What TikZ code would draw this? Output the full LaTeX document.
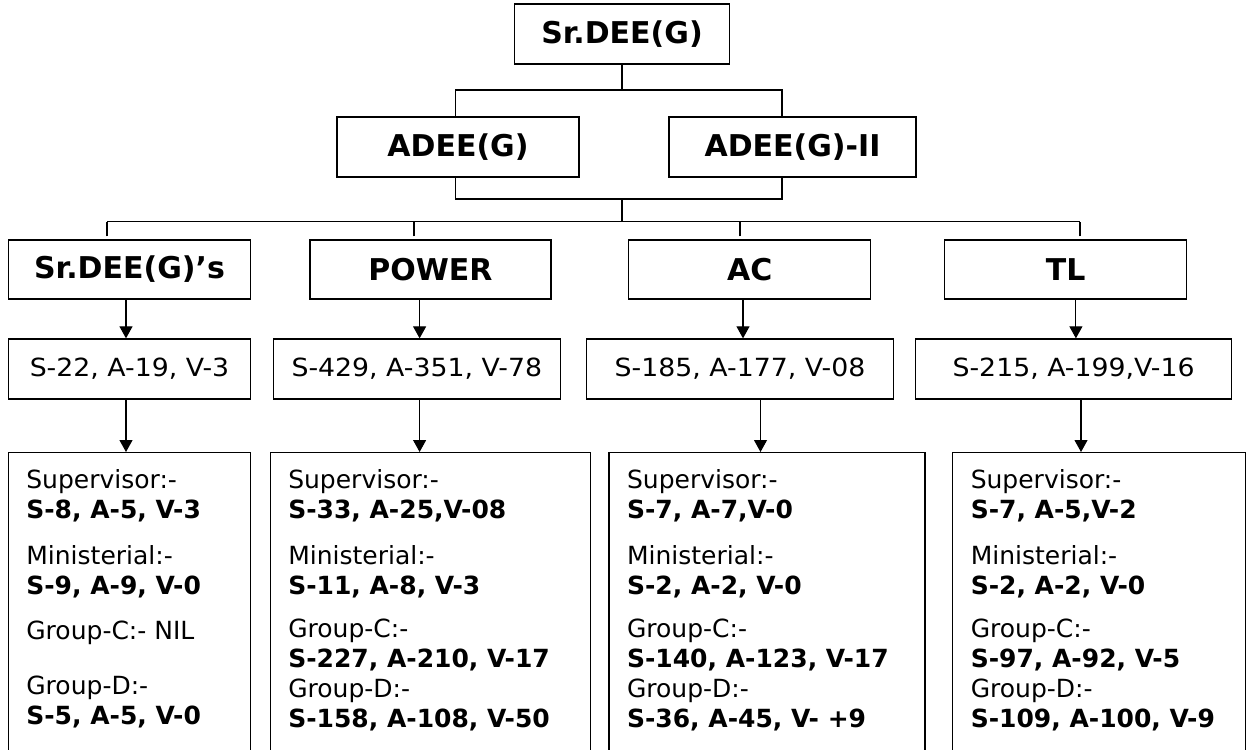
\documentclass[tikz,border=0pt]{standalone}
\usepackage{fontspec}
\setmainfont{DejaVu Sans}
\newfontfamily\widefont[FakeStretch=1.07]{DejaVu Sans}
\usetikzlibrary{arrows.meta}
\begin{document}
\begin{tikzpicture}[x=1pt,y=-1pt,
	box/.style={draw,line width=1.3pt,inner sep=0pt},
	head/.style={box,minimum height=60pt,font=\fontsize{30}{36}\selectfont\bfseries},
	tally/.style={box,minimum height=60pt,font=\widefont\fontsize{25}{30}\selectfont},
	detail/.style={box,anchor=north,minimum height=330pt},
	detailtext/.style={anchor=north west,inner sep=0pt,align=left,font=\fontsize{25}{30}\selectfont},
	link/.style={line width=1.1pt},
	arr/.style={link,-{Triangle[length=12pt,width=13pt]}}]
	\useasboundingbox (0,0) rectangle (1246,749);
	\clip (0,0) rectangle (1246,749);
	\node[head,minimum width=215pt] (top) at (622,34) {Sr.DEE(G)};
	\node[head,minimum width=242pt] (adee1) at (458,147) {ADEE(G)};
	\node[head,minimum width=247pt] (adee2) at (792.5,147) {ADEE(G)-II};
	\node[head,minimum width=242.4pt,minimum height=59pt] (sr1) at (129.5,269.5) {Sr.DEE(G)’s};
	\node[head,minimum width=241pt,minimum height=59pt] (pw1) at (430.5,269.5) {POWER};
	\node[head,minimum width=242pt,minimum height=59pt] (ac1) at (749.75,269.5) {AC};
	\node[head,minimum width=242.2pt,minimum height=59pt] (tl1) at (1065.6,269.5) {TL};
	\node[tally,minimum width=242.4pt] (sr2) at (129.5,369) {S-22, A-19, V-3};
	\node[tally,minimum width=287pt] (pw2) at (416.8,369) {S-429, A-351, V-78};
	\node[tally,minimum width=306.6pt] (ac2) at (740,369) {S-185, A-177, V-08};
	\node[tally,minimum width=316pt] (tl2) at (1073.6,369) {S-215, A-199,V-16};
	\node[detail,minimum width=242.4pt] (sr3) at (129.5,452) {};
	\node[detail,minimum width=320.4pt] (pw3) at (430.4,452) {};
	\node[detail,minimum width=316pt] (ac3) at (767,452) {};
	\node[detail,minimum width=292.8pt] (tl3) at (1099.1,452) {};
	\node[detailtext] (srtxt) at ([shift={(18.5,17)}]sr3.north west) {Supervisor:-\\ \textbf{S-8, A-5, V-3}\\[16pt] Ministerial:-\\ \textbf{S-9, A-9, V-0}\\[15pt] Group-C:- NIL\\[25pt] Group-D:-\\ \textbf{S-5, A-5, V-0}};
	\node[detailtext] (pwtxt) at ([shift={(18.5,17)}]pw3.north west) {Supervisor:-\\ \textbf{S-33, A-25,V-08}\\[16pt] Ministerial:-\\ \textbf{S-11, A-8, V-3}\\[13pt] Group-C:-\\ \textbf{S-227, A-210, V-17}\\ Group-D:-\\ \textbf{S-158, A-108, V-50}};
	\node[detailtext] (actxt) at ([shift={(18.5,17)}]ac3.north west) {Supervisor:-\\ \textbf{S-7, A-7,V-0}\\[16pt] Ministerial:-\\ \textbf{S-2, A-2, V-0}\\[13pt] Group-C:-\\ \textbf{S-140, A-123, V-17}\\ Group-D:-\\ \textbf{S-36, A-45, V- +9}};
	\node[detailtext] (tltxt) at ([shift={(18.5,17)}]tl3.north west) {Supervisor:-\\ \textbf{S-7, A-5,V-2}\\[16pt] Ministerial:-\\ \textbf{S-2, A-2, V-0}\\[13pt] Group-C:-\\ \textbf{S-97, A-92, V-5}\\ Group-D:-\\ \textbf{S-109, A-100, V-9}};
	\coordinate (j1) at (622,90);
	\coordinate (j2) at (622,199);
	\coordinate (bus) at (622,221.7);
	\coordinate (bl) at (107,221.7);
	\coordinate (br) at (1080,221.7);
	\draw[link] (top) -- (j1);
	\draw[link] ([xshift=-2.4pt]adee1.north) |- (j1) -| ([xshift=-10.5pt]adee2.north);
	\draw[link] ([xshift=-2.4pt]adee1.south) |- (j2) -| ([xshift=-10.5pt]adee2.south);
	\draw[link] (j2) -- (bus);
	\draw[link] (bl) -- (br);
	\foreach \n/\s in {sr1/-22.5pt,pw1/-16.5pt,ac1/-9.75pt,tl1/14.4pt}
		\draw[link,shorten <=3pt] ([xshift=\s]\n.north) -- ([xshift=\s]\n.north |- bus);
	\foreach \a/\b/\s in {sr1/sr2/-3.5pt,pw1/pw2/-10.9pt,ac1/ac2/-6.75pt,tl1/tl2/10.3pt,sr2/sr3/-3.5pt,pw2/pw3/2.8pt,ac2/ac3/20.5pt,tl2/tl3/7.4pt}
		\draw[arr] ([xshift=\s]\a.south) -- ([xshift=\s]\a.south |- \b.north);
\end{tikzpicture}
\end{document}
